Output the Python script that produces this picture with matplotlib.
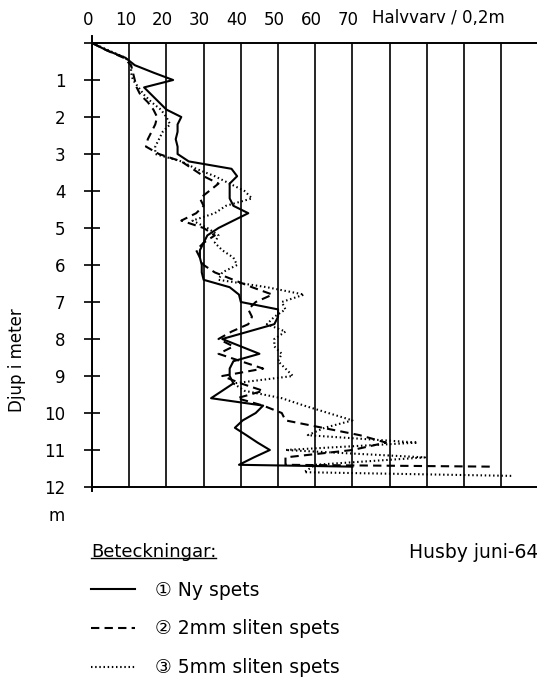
import numpy as np
import matplotlib.pyplot as plt
from matplotlib.lines import Line2D
from matplotlib.transforms import ScaledTranslation

plt.rcParams['font.family'] = ['DejaVu Sans', 'Noto Sans CJK JP']

# Halvvarv per 0,2 m, read every 0,2 m of depth from 0 m
ny_spets = [0, 4, 9, 11.5, 16.5, 21.8, 14, 16, 18, 20,
            24, 23, 23, 22.5, 23, 23, 26, 37.5, 39, 37,
            37, 37, 38, 42, 38, 34, 31, 30, 29, 29,
            29.5, 29.5, 30, 37, 39.5, 40, 50, 50, 49, 42,
            35, 40, 45, 38, 37, 37, 38, 35, 32, 46,
            44, 40.5, 38.4, 41.5, 44.5, 47.8, 43.5, 39.5]
sliten_2mm = [0, 4, 8.5, 10.5, 11, 11.5, 12, 13, 15, 16.5,
              17.5, 17, 16, 15, 14.5, 18, 24, 27, 30, 34,
              31.5, 29, 30, 28, 24, 30, 33, 30, 28, 29,
              30, 33, 38, 43, 48.5, 44, 42, 43, 42, 37.5,
              34, 38, 34, 40, 46, 35, 40, 46, 39, 46,
              51, 52, 62, 72, 79, 70, 52, 52]
sliten_5mm = [0, 4.5, 9, 10.5, 10.5, 11, 12.5, 14, 16, 18.5,
              20, 21, 19, 18, 17, 17, 24, 28, 33, 37,
              41, 43, 36, 33, 27, 31, 34, 33, 35, 38,
              39, 35, 34, 47, 57, 51, 52, 49, 47, 52,
              49, 49, 51, 50, 52, 54, 38, 41, 51, 57,
              63.5, 70, 62.5, 58, 87.5, 52, 89.5, 60, 57]

# last reading where the sounding ran through (value, depth)
ny_end = (70, 11.45)
sliten_2mm_end = (107.5, 11.45)
sliten_5mm_end = (113, 11.7)

top_labels = ['0', '10', '20', '30', '40', '50', '60', '70', '', '', '', '']
depth_labels = [''] + [str(i) for i in range(1, 13)]

series = [
    (ny_spets, ny_end, '-', '① Ny spets'),
    (sliten_2mm, sliten_2mm_end, (0, (4, 2.5)), '② 2mm sliten spets'),
    (sliten_5mm, sliten_5mm_end, (0, (0.7, 1.3)), '③ 5mm sliten spets'),
]

fig = plt.figure(figsize=(5.37, 6.82), dpi=100)
ax = fig.add_axes([92 / 537, 1 - 487 / 682, 445 / 537, 444 / 682])

for vals, end, ls, lab in series:
    d = np.arange(len(vals)) * 0.2
    xs = list(vals) + [end[0]]
    ys = list(d) + [end[1]]
    ax.plot(xs, ys, color='k', lw=1.5, ls=ls, label=lab)

ax.set_xlim(0, 119.6)
ax.set_ylim(12, 0)

ax.xaxis.tick_top()
ax.set_xticks(np.arange(0, 120, 10))
ax.set_xticklabels(top_labels)
ax.tick_params(axis='x', length=0, pad=10, labelsize=12)
shift = ScaledTranslation(-0.04, 0, fig.dpi_scale_trans)
for lbl in ax.get_xticklabels():
    lbl.set_transform(lbl.get_transform() + shift)
ax.grid(axis='x', color='k', lw=1.2)

ax.set_yticks(range(0, 13))
ax.set_yticklabels(depth_labels)
ax.tick_params(axis='y', direction='inout', length=12, width=1.2, pad=13, labelsize=12)

for side in ['top', 'bottom', 'left']:
    ax.spines[side].set_linewidth(1.4)
ax.spines['right'].set_visible(False)
ax.spines['left'].set_bounds(12.1, -0.2)

ax.set_ylabel('Djup i meter', fontsize=12)
ax.yaxis.set_label_coords(-0.148, 0.286)
ax.text(-0.079, -0.066, 'm', transform=ax.transAxes, fontsize=12, ha='center', va='center')
ax.text(75.3, 1.056, 'Halvvarv / 0,2m', transform=ax.get_xaxis_transform(),
        fontsize=12, ha='left', va='center')

leg = ax.legend(loc='upper left', bbox_to_anchor=(91 / 537, 1 - 543 / 682),
                bbox_transform=fig.transFigure, frameon=False,
                title='Beteckningar:', alignment='left',
                handlelength=2.35, handletextpad=1.05, labelspacing=1.05,
                fontsize=13.5, title_fontsize=13, borderpad=0, borderaxespad=0)

fig.text(409 / 537, 1 - 553 / 682, 'Husby juni-64', fontsize=13.5, va='center')

# underline the legend heading
fig.canvas.draw()
tb = leg.get_title().get_window_extent().transformed(fig.transFigure.inverted())
fig.add_artist(Line2D([tb.x0, tb.x1], [tb.y0 + 0.004, tb.y0 + 0.004],
                      color='k', lw=1.0, transform=fig.transFigure))

fig.savefig('out.png', dpi=100)
